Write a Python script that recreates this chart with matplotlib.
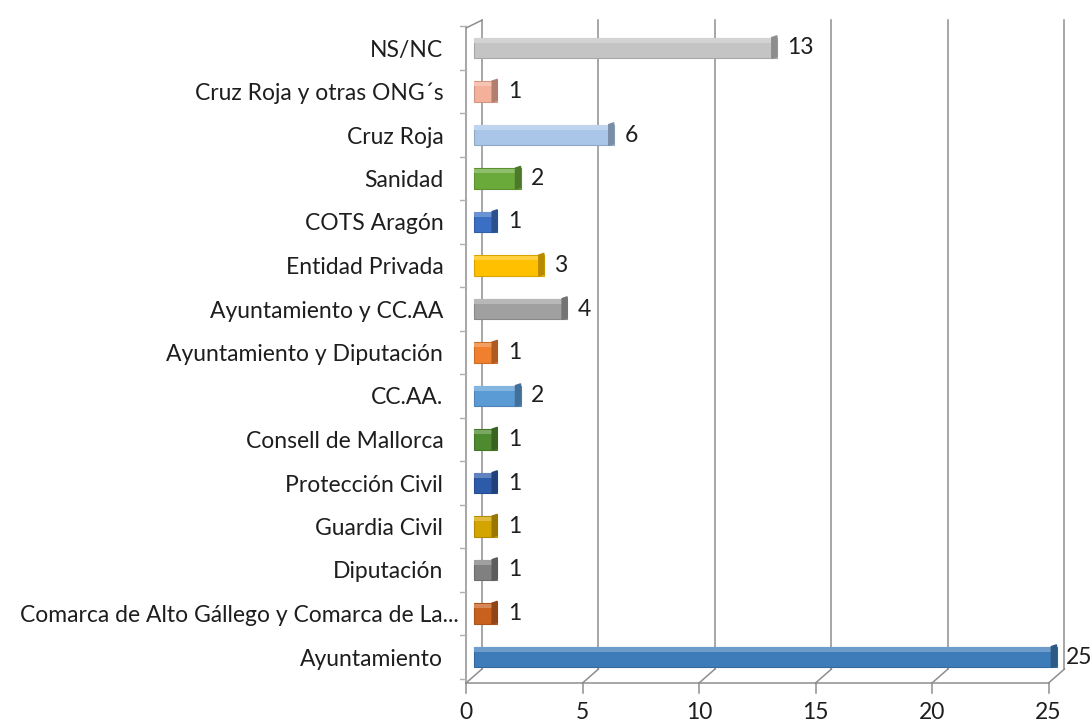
import matplotlib
matplotlib.use('Agg')
import matplotlib.pyplot as plt
from matplotlib.patches import Polygon
from matplotlib.transforms import ScaledTranslation

# datos (de abajo hacia arriba, como en el gráfico)
categorias = ['Ayuntamiento', 'Comarca de Alto Gállego y Comarca de La...', 'Diputación',
              'Guardia Civil', 'Protección Civil', 'Consell de Mallorca', 'CC.AA.',
              'Ayuntamiento y Diputación', 'Ayuntamiento y CC.AA', 'Entidad Privada',
              'COTS Aragón', 'Sanidad', 'Cruz Roja', 'Cruz Roja y otras ONG´s', 'NS/NC']
valores = [25, 1, 1, 1, 1, 1, 2, 1, 4, 3, 1, 2, 6, 1, 13]
colores = ['#3E7CB9', '#C8601E', '#808080', '#D4A400', '#2E5AAA', '#4E8A2E', '#5B9BD5',
           '#F07F2E', '#A0A0A0', '#FFC000', '#3A6FC4', '#6AAA3A', '#A9C6E8', '#F4B09A', '#C4C4C4']
marcas_x = [0, 5, 10, 15, 20, 25]


def oscurecer(c, f):
    r, g, b = matplotlib.colors.to_rgb(c)
    return (r * f, g * f, b * f)


def aclarar(c, f):
    r, g, b = matplotlib.colors.to_rgb(c)
    return (r + (1 - r) * f, g + (1 - g) * f, b + (1 - b) * f)


plt.rcParams['font.family'] = ['Lato', 'DejaVu Sans']
tam = 16.5

fig = plt.figure(figsize=(10.92, 7.26), dpi=100)
W, H = 1092, 726
# eje x: 0 -> 474 px, 23.3 px por unidad; eje y: categoria 0 -> 657 px, 43.5 px por categoria
x0, x1 = -0.6, 26.5
y0, y1 = -0.9, 14.75
izq = 474 + x0 * 23.3
der = 474 + x1 * 23.3
abajo = 657 - y0 * 43.5
arriba = 657 - y1 * 43.5
ax = fig.add_axes([izq / W, (H - abajo) / H, (der - izq) / W, (abajo - arriba) / H])
ax.set_xlim(x0, x1)
ax.set_ylim(y0, y1)
for s in ax.spines.values():
    s.set_visible(False)

gris = '#8E8E8E'
dx = 0.343          # mitad de la profundidad en x
y_frente = -0.598
y_fondo = -0.276
y_techo = 14.64
y_techo_frente = 14.46

# pared del fondo
for v in marcas_x:
    ax.plot([v + dx, v + dx], [y_fondo, y_techo], color=gris, lw=1.1, zorder=1)
# arista frontal izquierda
ax.plot([-dx, -dx], [y_frente, y_techo_frente], color=gris, lw=1.1, zorder=1)
ax.plot([-dx, dx], [y_techo_frente, y_techo], color=gris, lw=1.1, zorder=1)
# suelo
ax.plot([-dx, marcas_x[-1] - dx], [y_frente, y_frente], color=gris, lw=1.1, zorder=1)
for v in marcas_x:
    ax.plot([v - dx, v + dx], [y_frente, y_fondo], color=gris, lw=1.1, zorder=1)
    ax.plot([v - dx, v - dx], [y_frente, y_frente - 0.23], color=gris, lw=1.1, zorder=1,
            clip_on=False)
    ax.text(v - dx, y_frente - 0.68, str(v), ha='center', va='center', fontsize=tam,
            color='#1E1E1E', clip_on=False)
# marcas de categorias
for i in range(len(categorias) + 1):
    ax.plot([-dx - 0.3, -dx], [i - 0.5, i - 0.5], color='#B0B0B0', lw=1, zorder=1)

# barras con efecto 3D
alto = 0.48
for i, (v, c) in enumerate(zip(valores, colores)):
    ax.barh(i, v, height=alto, left=0, color=c, edgecolor=oscurecer(c, 0.85), lw=0.8, zorder=3)
    # franja superior mas clara
    ax.barh(i + alto * 0.36, v, height=alto * 0.22, left=0, color=aclarar(c, 0.25),
            lw=0, zorder=4)
    # tapa derecha mas oscura
    tapa = Polygon([(v - 0.22, i - alto / 2), (v, i - alto / 2 + 0.04), (v, i + alto / 2 + 0.04),
                    (v - 0.22, i + alto / 2)], closed=True, color=oscurecer(c, 0.72), zorder=5)
    ax.add_patch(tapa)
    sep = 0.4 if v >= 20 else 0.45
    ax.text(v + sep, i, str(v), ha='left', va='center', fontsize=tam, color='#1E1E1E',
            zorder=6, clip_on=False)

ax.set_yticks(range(len(categorias)))
ax.set_yticklabels(categorias, fontsize=tam, color='#1E1E1E')
ax.tick_params(axis='y', length=0, pad=12)
ax.set_xticks([])

# la etiqueta recortada queda algo mas a la derecha, como en Excel
for et in ax.get_yticklabels():
    if et.get_text().endswith('...'):
        et.set_transform(et.get_transform() + ScaledTranslation(15 / 100, 0, fig.dpi_scale_trans))

fig.savefig('out.png', dpi=100)
